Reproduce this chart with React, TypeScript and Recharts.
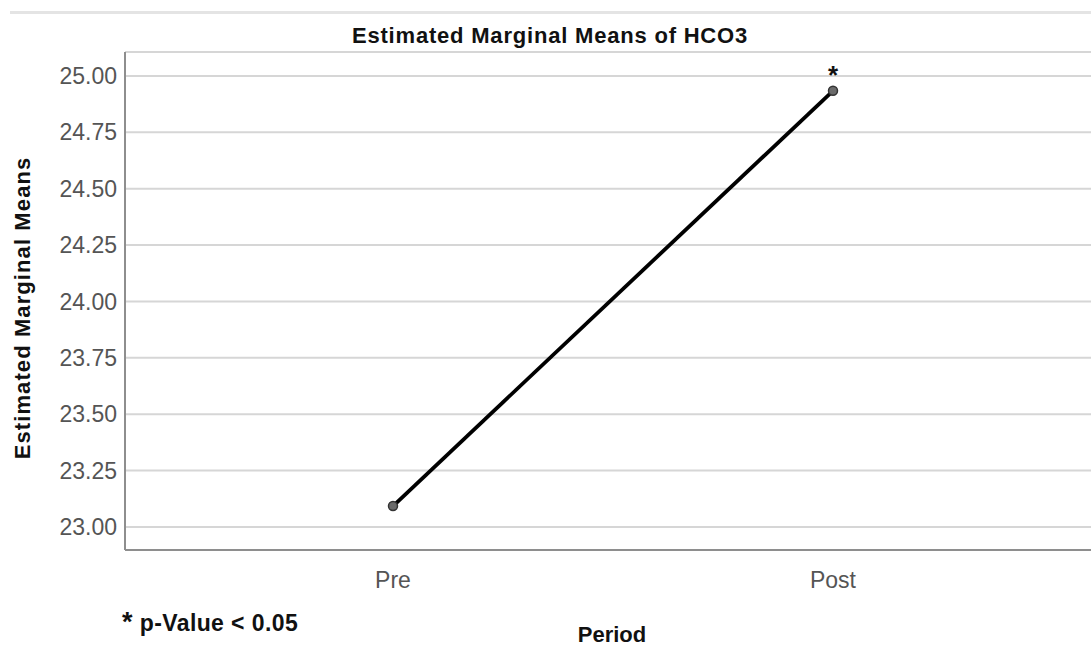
import React from "react"
import {
  LineChart,
  Line,
  XAxis,
  YAxis,
  CartesianGrid,
  LabelList,
} from "recharts"

// values
const periods = ["Pre", "Post"]
const means = [23.093, 24.934]
const significance = ["", "*"]
const yTicks = [23, 23.25, 23.5, 23.75, 24, 24.25, 24.5, 24.75, 25]

const chartData = periods.map((p, i) => ({
  period: p,
  mean: means[i],
  sig: significance[i],
}))

const FONT = "'Liberation Sans', Arial, sans-serif"

const StarLabel = (props: any) => {
  const { x, y, value } = props
  if (!value) return null
  return (
    <text
      x={x}
      y={y - 7}
      textAnchor="middle"
      fontFamily={FONT}
      fontWeight="bold"
      fontSize={26}
      fill="#111"
    >
      {value}
    </text>
  )
}

const App = () => {
  return (
    <div
      style={{
        position: "absolute",
        left: 0,
        top: 0,
        width: 1091,
        height: 646,
        background: "#fff",
        fontFamily: FONT,
        overflow: "hidden",
      }}
    >
      {/* thin grey bar above the chart */}
      <div
        style={{
          position: "absolute",
          left: 10,
          top: 11,
          width: 1081,
          height: 3,
          background: "#e4e4e4",
        }}
      />

      <div
        style={{
          position: "absolute",
          left: 0,
          width: 1100,
          top: 25,
          textAlign: "center",
          fontSize: 22,
          lineHeight: "22px",
          fontWeight: "bold",
          letterSpacing: 0.8,
          color: "#111",
        }}
      >
        Estimated Marginal Means of HCO3
      </div>

      <LineChart
        width={1091}
        height={646}
        data={chartData}
        margin={{ top: 52, right: 0, bottom: 66, left: 0 }}
      >
        <CartesianGrid
          horizontal
          vertical={false}
          stroke="#d6d6d6"
          strokeWidth={2}
        />
        <XAxis
          dataKey="period"
          type="category"
          height={30}
          padding={{ left: 268, right: 258 }}
          axisLine={{ stroke: "#8e8e8e", strokeWidth: 2 }}
          tickLine={false}
          tickMargin={16}
          tick={{ fill: "#555", fontSize: 23, fontFamily: FONT }}
        />
        <YAxis
          type="number"
          width={125}
          domain={[22.898, 25.106]}
          ticks={yTicks}
          allowDataOverflow
          tickFormatter={(v: number) => v.toFixed(2)}
          axisLine={{ stroke: "#8e8e8e", strokeWidth: 2 }}
          tickLine={false}
          tick={{ fill: "#555", fontSize: 23, fontFamily: FONT }}
        />
        <Line
          dataKey="mean"
          stroke="#000"
          strokeWidth={3.8}
          isAnimationActive={false}
          dot={{ r: 4.5, fill: "#6b6b6b", stroke: "#333", strokeWidth: 1.5 }}
          activeDot={false}
        >
          <LabelList dataKey="sig" content={<StarLabel />} />
        </Line>
      </LineChart>

      {/* y axis title */}
      <div
        style={{
          position: "absolute",
          left: 23 - 160,
          top: 308 - 11,
          width: 320,
          textAlign: "center",
          fontSize: 22,
          lineHeight: "22px",
          fontWeight: "bold",
          letterSpacing: 1.1,
          color: "#111",
          transform: "rotate(-90deg)",
        }}
      >
        Estimated Marginal Means
      </div>

      {/* footnote */}
      <div
        style={{
          position: "absolute",
          left: 122,
          top: 611,
          fontSize: 23,
          lineHeight: "23px",
          fontWeight: "bold",
          letterSpacing: 0.4,
          color: "#111",
          whiteSpace: "nowrap",
        }}
      >
        <span style={{ fontSize: 27 }}>*</span> p-Value &lt; 0.05
      </div>

      {/* x axis title */}
      <div
        style={{
          position: "absolute",
          left: 612 - 100,
          top: 626,
          width: 200,
          textAlign: "center",
          fontSize: 22,
          lineHeight: "18px",
          fontWeight: "bold",
          color: "#111",
        }}
      >
        Period
      </div>
    </div>
  )
}

export default App
